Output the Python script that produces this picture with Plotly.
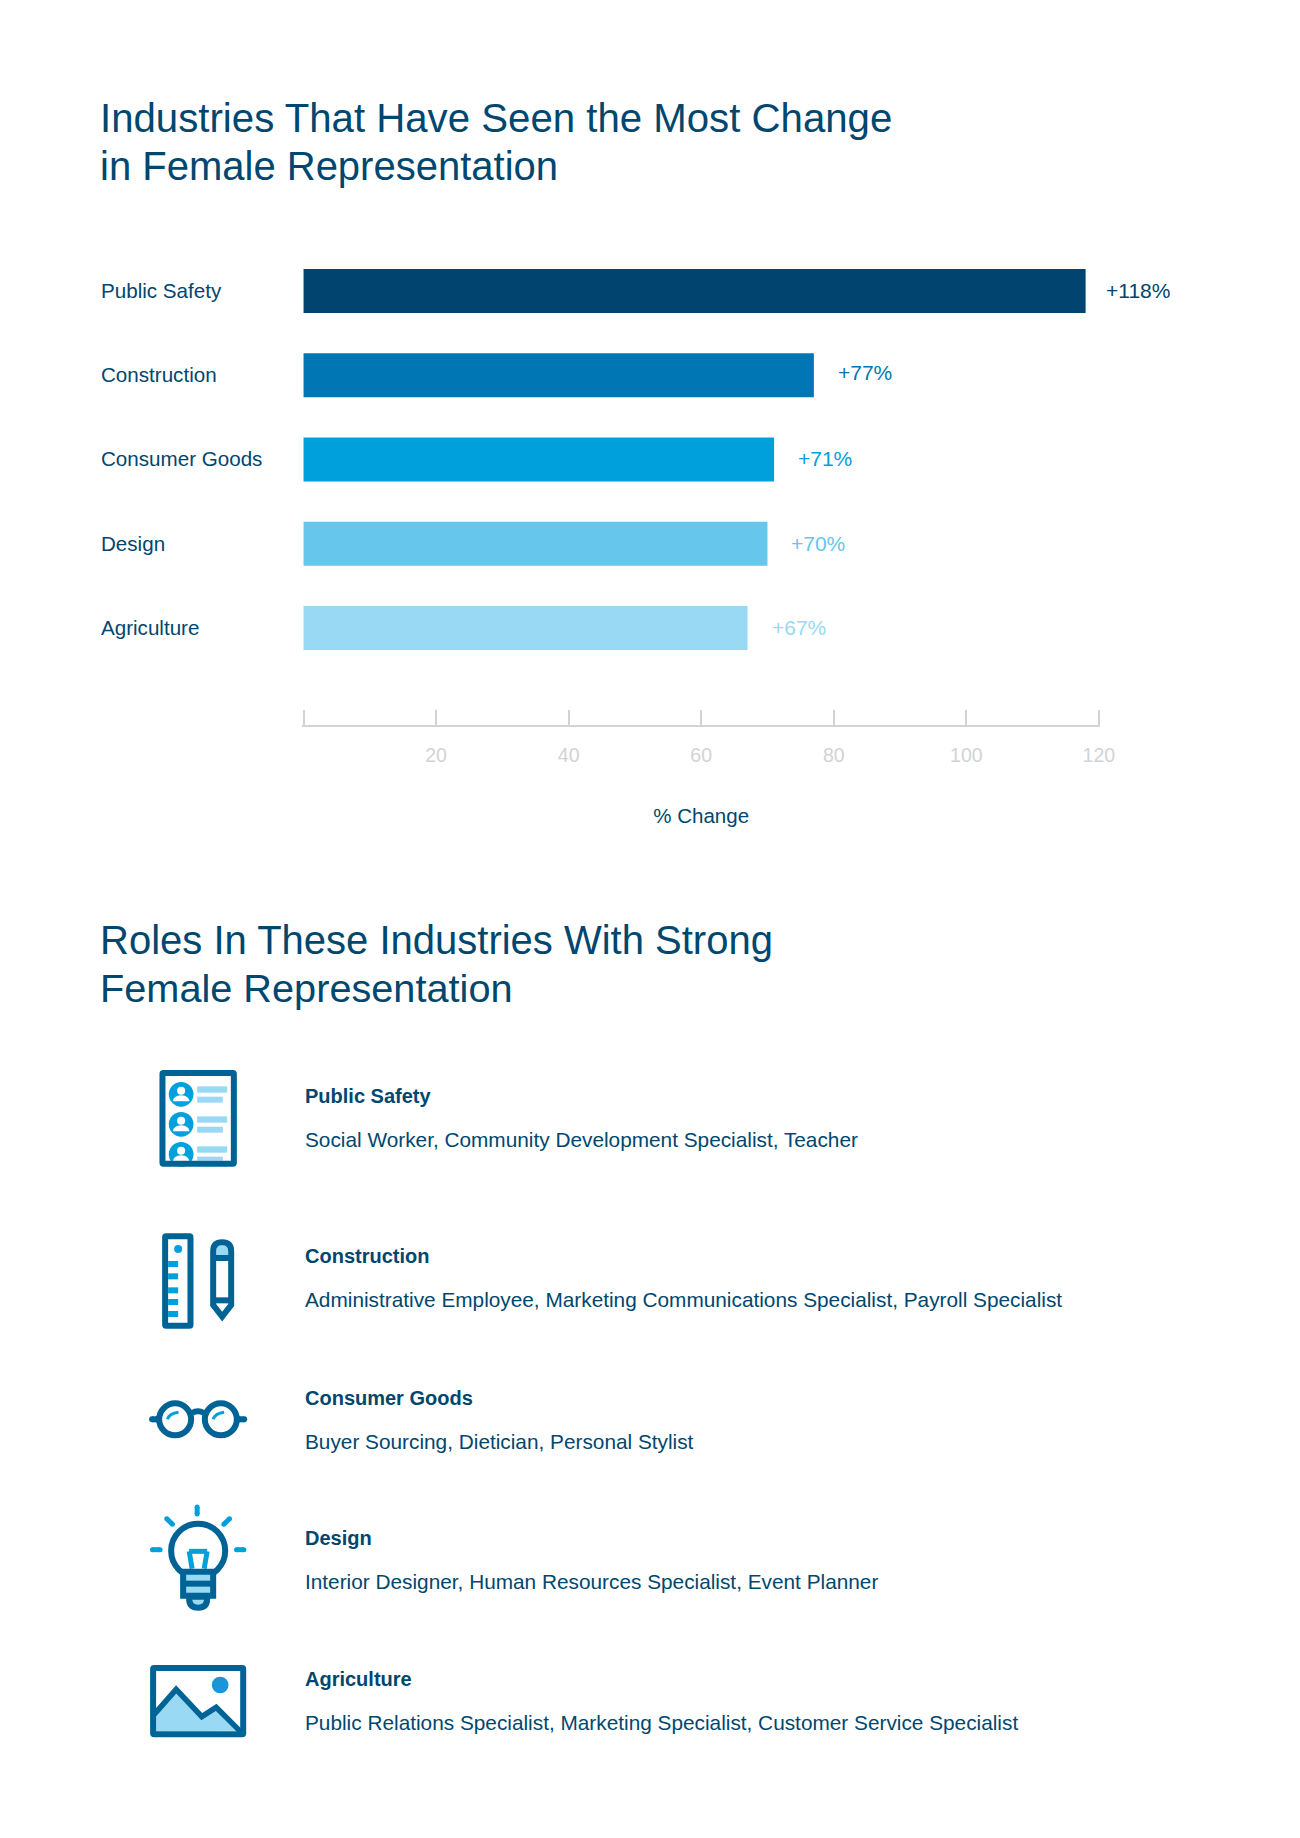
import re
import plotly.graph_objects as go

W = 1300
H = 1838
PLOT_W = 1284  # width the plot actually gets in the page

CATEGORIES = ["Public Safety", "Construction", "Consumer Goods", "Design", "Agriculture"]
PCT_CHANGE = [118, 77, 71, 70, 67]
VALUE_LABELS = ["+118%", "+77%", "+71%", "+70%", "+67%"]
TICK_VALUES = [0, 20, 40, 60, 80, 100, 120]
TICK_LABELS = ["", "20", "40", "60", "80", "100", "120"]
ROLES = [
    "Social Worker, Community Development Specialist, Teacher",
    "Administrative Employee, Marketing Communications Specialist, Payroll Specialist",
    "Buyer Sourcing, Dietician, Personal Stylist",
    "Interior Designer, Human Resources Specialist, Event Planner",
    "Public Relations Specialist, Marketing Specialist, Customer Service Specialist",
]

BAR_COLORS = ["#00446f", "#0076b4", "#00a0dc", "#66c6ec", "#99d9f3"]
NAVY = "#00476f"
GREY = "#d1d3d4"
ICON_DARK = "#006396"
CYAN = "#00a0dc"
LIGHT = "#99d9f3"
FONT = "Liberation Sans"

CAT_Y = [290, 374.2, 458.5, 543, 627.5]
VAL_Y = [290.5, 372.5, 458, 543.8, 627.5]
VAL_SHIFT = [18.5, 22, 22, 22, 22]
NAME_Y = [1096, 1256, 1398, 1538, 1679]
ROLE_Y = [1139.5, 1299.5, 1441.5, 1581.5, 1722.5]
BAR_Y0 = 291
AXIS_Y = 725
TOP_Y = 248.9
STEP = 84.25
PAD = 0.2  # keeps the end ticks from being dropped at the axis ends


def px(x):
    return x / PLOT_W


def py(y):
    return 1 - y / H


fig = go.Figure(go.Bar(
    y=CATEGORIES,
    x=PCT_CHANGE,
    orientation="h",
    width=0.522,
    marker=dict(color=BAR_COLORS, line_width=0),
    hoverinfo="x+y",
))


def add_text(x, y, text, size, color=NAVY, bold=False):
    fig.add_annotation(
        x=px(x), y=py(y), xref="paper", yref="paper",
        text=f"<b>{text}</b>" if bold else text,
        showarrow=False, xanchor="left", yanchor="middle", align="left",
        font=dict(family=FONT, size=size, color=color),
    )


add_text(98, 118.5, "Industries That Have Seen the Most Change", 40.2)
add_text(98, 166, "in Female Representation", 40)
add_text(98, 940.2, "Roles In These Industries With Strong", 40)
add_text(98, 988, "Female Representation", 39.7)

for i, cat in enumerate(CATEGORIES):
    add_text(99, CAT_Y[i], cat, 20.6)
    fig.add_annotation(
        x=PCT_CHANGE[i], y=py(VAL_Y[i]), yref="paper", text=VALUE_LABELS[i], showarrow=False,
        xanchor="left", yanchor="middle", xshift=VAL_SHIFT[i],
        font=dict(family=FONT, size=21, color=BAR_COLORS[i]),
    )

for i, cat in enumerate(CATEGORIES):
    add_text(303, NAME_Y[i], cat, 20, bold=True)
    add_text(303, ROLE_Y[i], ROLES[i], 20.8)


# icons, coordinates are 3x crop pixels relative to an origin
def conv(path, ox, oy):
    nums = re.split(r"([MLQCZ])", path)
    out = []
    for part in nums:
        part = part.strip()
        if part in ("M", "L", "Q", "C", "Z"):
            out.append(part)
        elif part:
            vals = [float(v) for v in part.split()]
            pts = []
            for k in range(0, len(vals), 2):
                pts.append(f"{px(ox + vals[k] / 3):.5f},{py(oy + vals[k + 1] / 3):.5f}")
            out.append(" ".join(pts))
    return " ".join(out)


def path(d, o, stroke=None, fill=None, w=6):
    fig.add_shape(
        type="path", xref="paper", yref="paper", path=conv(d, *o),
        line=dict(color=stroke or "rgba(0,0,0,0)", width=w if stroke else 0),
        fillcolor=fill or "rgba(0,0,0,0)",
    )


def box(x0, y0, x1, y1, o, fill=None, stroke=None, w=6):
    fig.add_shape(
        type="rect", xref="paper", yref="paper",
        x0=px(o[0] + x0 / 3), x1=px(o[0] + x1 / 3),
        y0=py(o[1] + y0 / 3), y1=py(o[1] + y1 / 3),
        line=dict(color=stroke or "rgba(0,0,0,0)", width=w if stroke else 0),
        fillcolor=fill or "rgba(0,0,0,0)",
    )


def frame(x0, y0, x1, y1, o, r=3):
    # rect outline with slightly rounded corners
    d = (f"M{x0 + r} {y0} L{x1 - r} {y0} Q{x1} {y0} {x1} {y0 + r} L{x1} {y1 - r} Q{x1} {y1} {x1 - r} {y1} "
         f"L{x0 + r} {y1} Q{x0} {y1} {x0} {y1 - r} L{x0} {y0 + r} Q{x0} {y0} {x0 + r} {y0} Z")
    path(d, o, stroke=ICON_DARK)


def dot(cx, cy, r, o, fill=None, stroke=None, w=6):
    fig.add_shape(
        type="circle", xref="paper", yref="paper",
        x0=px(o[0] + (cx - r) / 3), x1=px(o[0] + (cx + r) / 3),
        y0=py(o[1] + (cy - r) / 3), y1=py(o[1] + (cy + r) / 3),
        line=dict(color=stroke or "rgba(0,0,0,0)", width=w if stroke else 0),
        fillcolor=fill or "rgba(0,0,0,0)",
    )


def ray(x0, y0, x1, y1, o, color=CYAN, w=15):
    path(f"M{x0} {y0} L{x1} {y1}", o, stroke=color, w=w / 3)
    dot(x0, y0, w / 2, o, fill=color)
    dot(x1, y1, w / 2, o, fill=color)


A = (130, 1060)
B = (130, 1380)

# resume
for dy in (0, 90, 180):
    dot(153, 103 + dy, 37, A, fill=CYAN)
    dot(153, 92 + dy, 12, A, fill="white")
    path(f"M128 {124 + dy} Q130 {108 + dy} 153 {106 + dy} Q176 {108 + dy} 178 {124 + dy} Z", A, fill="white")
    box(201, 79 + dy, 291, 98 + dy, A, fill=LIGHT)
    box(201, 110 + dy, 278, min(128 + dy, 302), A, fill=LIGHT)
frame(97, 39, 311, 311, A)

# ruler and pencil
frame(105, 529, 181, 797, A)
dot(144, 567, 12, A, fill=CYAN)
for y0 in (603, 640, 682, 717, 753):
    box(114, y0, 144, y0 + 18, A, fill=CYAN)
path("M258 585 L258 572 Q258 556 276 556 Q294 556 294 572 L294 585 Z", A, fill=LIGHT)
path("M249 735 L249 574 Q249 547 276 547 Q303 547 303 574 L303 735 L276 770 Z", A, stroke=ICON_DARK)
path("M249 594 L303 594", A, stroke=ICON_DARK)
path("M249 721 L303 721", A, stroke=ICON_DARK)

# glasses
dot(135, 118, 48, B, stroke=ICON_DARK)
dot(272, 118, 48, B, stroke=ICON_DARK)
path("M186 99 Q203 88 221 99", B, stroke=ICON_DARK)
ray(66, 118, 80, 118, B, color=ICON_DARK, w=18)
ray(327, 118, 342, 118, B, color=ICON_DARK, w=18)
path("M112 118 Q118 100 145 97", B, stroke=CYAN, w=3)
path("M249 118 Q255 100 282 97", B, stroke=CYAN, w=3)

# light bulb
ray(201, 381, 201, 402, B)
ray(110, 416, 127, 433, B)
ray(298, 416, 281, 433, B)
ray(67, 509, 90, 509, B)
ray(319, 509, 341, 509, B)
dot(204, 512, 81, B, stroke=ICON_DARK)
path("M177 514 L231 514", B, stroke=CYAN, w=5)
path("M177 514 L186 566", B, stroke=CYAN, w=5)
path("M231 514 L222 566", B, stroke=CYAN, w=5)
path("M177 650 L177 656 Q177 683 204 683 Q231 683 231 656 L231 650 Z", B, fill=LIGHT, stroke=ICON_DARK)
box(159, 575, 249, 647, B, fill=LIGHT, stroke=ICON_DARK)
path("M159 611 L249 611", B, stroke=ICON_DARK)

# picture frame
path("M78 1010 L138 930 L215 1010 L258 982 L330 1052 L78 1054 Z", B, fill=LIGHT)
dot(270, 915, 25, B, fill="#1c95d6")
path("M69 1007 L138 928 L215 1010 L258 982 L334 1058", B, stroke=ICON_DARK, w=5.5)
frame(69, 864, 339, 1063, B)

unit = (1098 - 303.3) / 120
fig.update_xaxes(
    domain=[px(303.3 - PAD * unit), px(1098 + PAD * unit)], range=[-PAD, 120 + PAD],
    tickmode="array", tickvals=TICK_VALUES, ticktext=TICK_LABELS,
    ticks="inside", ticklen=15, tickwidth=2, tickcolor=GREY,
    showline=True, linecolor=GREY, linewidth=2, showgrid=False, zeroline=False,
    ticklabelstandoff=12,
    tickfont=dict(family=FONT, size=19.5, color=GREY),
    title=dict(text="% Change", standoff=43, font=dict(family=FONT, size=20.5, color=NAVY)),
)
fig.update_yaxes(
    domain=[py(AXIS_Y), py(TOP_Y)], range=[(AXIS_Y - BAR_Y0) / STEP, -0.5],
    showticklabels=False, ticks="", showline=False, showgrid=False, zeroline=False,
)
fig.update_layout(
    width=W, height=H,
    margin=dict(l=0, r=0, t=0, b=0),
    paper_bgcolor="white", plot_bgcolor="white",
    showlegend=False,
    font=dict(family=FONT, color=NAVY),
)

fig.write_html(
    "out.html",
    config={"displayModeBar": False, "responsive": False},
    default_width="1300px", default_height="1838px",
    post_script="document.body.style.margin='0';",
)
